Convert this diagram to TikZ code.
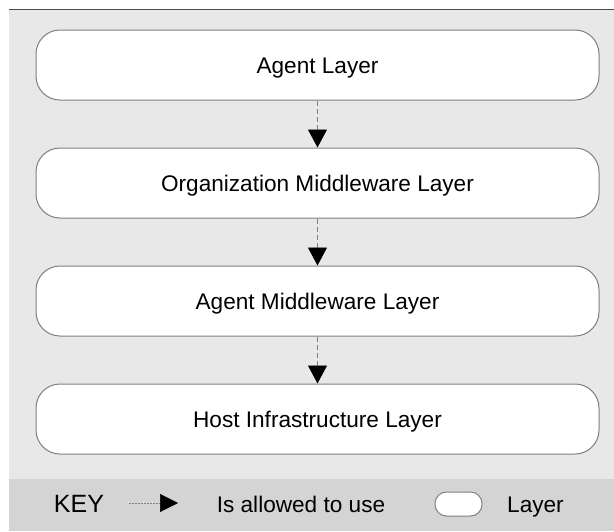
\documentclass[tikz,border=0pt]{standalone}
\usepackage{fontspec}
\setmainfont{Liberation Sans}
\usetikzlibrary{arrows.meta}
\definecolor{panelgray}{HTML}{E8E8E8}
\definecolor{keygray}{HTML}{D4D4D4}
\definecolor{edgegray}{HTML}{808080}
\definecolor{rulegray}{HTML}{4A4A4A}
\tikzset{
  txt/.style={font=\fontsize{22.6}{27}\selectfont},
  layer/.style={txt, draw=edgegray, line width=1pt, fill=white, rounded corners=24pt,
    minimum width=563pt, minimum height=70pt, inner sep=0pt,
    text height=17pt, text depth=0pt},
  uses/.style={draw=edgegray, line width=0.9pt, dash pattern=on 5pt off 3pt,
    -{Triangle[length=18pt,width=19pt,black]}},
  keytext/.style={txt, inner sep=0pt, anchor=base},
}
\begin{document}
\begin{tikzpicture}[x=1pt,y=-1pt]
  \useasboundingbox (0,0) rectangle (614,531);
  % background panel and key band
  \fill[panelgray] (9,9) rectangle (614,479);
  \fill[keygray] (9,479) rectangle (614,531);
  \draw[rulegray, line width=1pt] (9,9) -- (614,9);

  % layers
  \node[layer] (agent) at (317.5,65) {Agent Layer};
  \node[layer] (orgmw) at (317.5,183) {Organization Middleware Layer};
  \node[layer] (agentmw) at (317.5,301) {Agent Middleware Layer};
  \node[layer] (host) at (317.5,419) {Host Infrastructure Layer};

  % usage relations
  \draw[uses] (agent) -- (orgmw);
  \draw[uses] (orgmw) -- (agentmw);
  \draw[uses] (agentmw) -- (host);

  % key
  \node[keytext, font=\fontsize{25}{30}\selectfont] (keylabel) at (79,512) {KEY};
  \coordinate (keyfrom) at (129,503);
  \coordinate (keyto) at (178,503);
  \draw[edgegray, line width=0.6pt, dash pattern=on 2pt off 1pt,
    -{Triangle[length=18pt,width=18pt,black]}] (keyfrom) -- (keyto);
  \node[keytext] (keyuse) at (301,512) {Is allowed to use};
  \node[draw=edgegray, line width=1pt, fill=white, rounded corners=11.5pt,
    minimum width=47pt, minimum height=24pt, inner sep=0pt] (keybox) at (458.5,504) {};
  \node[keytext] (keylayer) at (535.5,512) {Layer};
\end{tikzpicture}
\end{document}
